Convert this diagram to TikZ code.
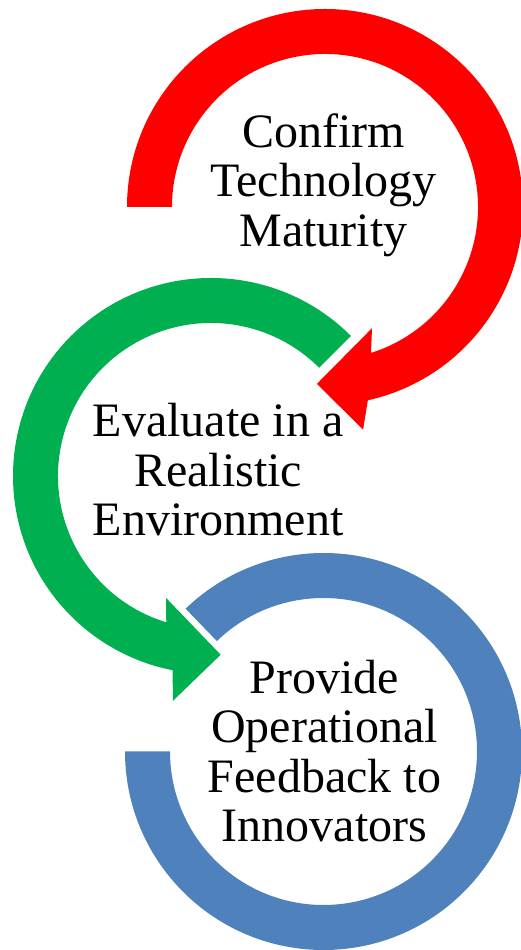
\documentclass[tikz,border=0pt]{standalone}
\usepackage{fontspec}
\setmainfont{Liberation Serif}
\usetikzlibrary{positioning}

\definecolor{cycleRed}{HTML}{FF0000}
\definecolor{cycleGreen}{HTML}{00B050}
\definecolor{cycleBlue}{HTML}{4F81BD}

\begin{document}
\begin{tikzpicture}[x=1pt, y=1pt]

    %
    % Styles for step texts and circular arrows
    %
    \tikzstyle{stepText} = [inner sep=0pt, align=center, text=black,
                            font={\fontsize{48}{49.5}\selectfont}]
    \tikzstyle{ringArrow} = [draw=none];

    \useasboundingbox (0,0) rectangle (520,950);

    %
    % Ring centres
    %
    \coordinate (confirmRing) at (325,743);
    \coordinate (evaluateRing) at (211,474);
    \coordinate (provideRing) at (323.5,198.5);

    %
    % Position step texts
    %
    \node[stepText, name=confirm] at (323.5,765) {Confirm\\Technology\\Maturity};
    \node[stepText, name=evaluate] at (218,480) {Evaluate in a\\Realistic\\Environment};
    \node[stepText, name=provide] at (324.5,198.7) {Provide\\Operational\\Feedback to\\Innovators};

    %
    % Circular arrows round the steps
    %
    \begin{scope}[shift={(confirmRing)}]
      \fill[ringArrow, cycleRed] (180:198) arc[start angle=180, end angle=-77.5, radius=198pt]
        -- (-80.3:226) -- (-92.6:177) -- (-68.8:130) -- (-72.5:153)
        arc[start angle=-72.5, end angle=180, radius=153pt] -- cycle;
    \end{scope}
    \begin{scope}[shift={(evaluateRing)}]
      \fill[ringArrow, cycleGreen] (45:198) arc[start angle=45, end angle=258.8, radius=198pt]
        -- (260.4:228) -- (273.1:179) -- (249.8:130) -- (253:153)
        arc[start angle=253, end angle=45, radius=153pt] -- cycle;
    \end{scope}
    \begin{scope}[shift={(provideRing)}]
      \fill[ringArrow, cycleBlue] (180:198.5) arc[start angle=180, end angle=494, radius=198.5pt]
        -- (134:153.5)
        arc[start angle=494, end angle=180, radius=153.5pt] -- cycle;
    \end{scope}
  \end{tikzpicture}
\end{document}
